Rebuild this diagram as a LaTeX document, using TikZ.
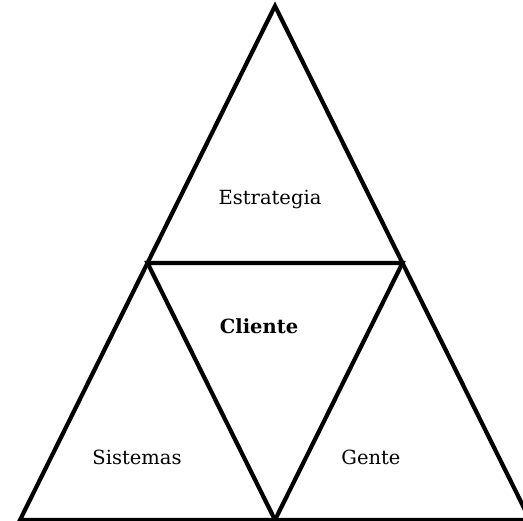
\documentclass[tikz,border=0pt]{standalone}
\usepackage{fontspec}
\setmainfont{DejaVu Serif}
\begin{document}
\begin{tikzpicture}[x=1pt,y=-1pt,
  edge/.style={line width=4.2pt,line join=miter,line cap=butt},
  lbl/.style={inner sep=0pt,font=\fontsize{19.5}{22}\selectfont},
  blbl/.style={lbl,font=\fontsize{19.5}{22}\selectfont\bfseries}]
\useasboundingbox (0,0) rectangle (523,521);
\clip (0,0) rectangle (523,521);
% corners of the outer triangle and the midpoints of its sides
\coordinate (top) at (275,6);
\coordinate (bl) at (20,520);
\coordinate (br) at (530,520);
\coordinate (ml) at (147.5,263);
\coordinate (mr) at (402.5,263);
\coordinate (mb) at (275,520);
% outer triangle
\draw[edge] (top) -- (bl) -- (br) -- cycle;
% inner, inverted triangle
\draw[edge] (ml) -- (mr) -- (mb) -- cycle;
% labels
\node[lbl] (estrategia) at (270,199) {Estrategia};
\node[blbl] (cliente) at (259,326) {Cliente};
\node[lbl] (sistemas) at (137,457) {Sistemas};
\node[lbl] (gente) at (371,457) {Gente};
\end{tikzpicture}
\end{document}
